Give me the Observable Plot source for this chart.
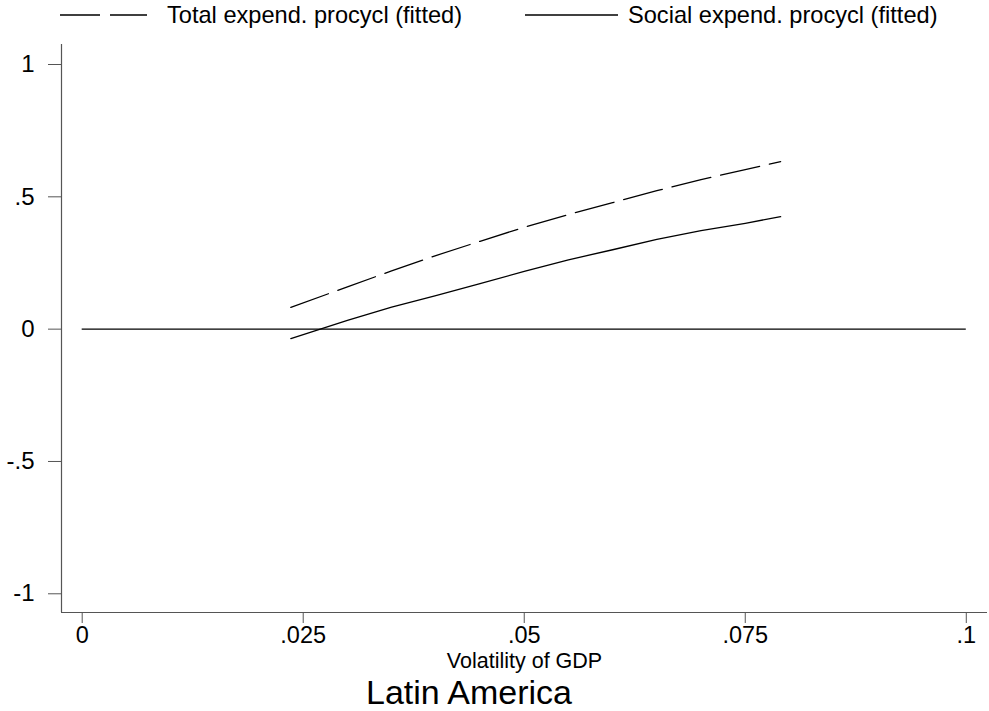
<!DOCTYPE html>
<html>
<head>
<meta charset="utf-8">
<script src="https://cdn.jsdelivr.net/npm/d3@7"></script>
<script src="https://cdn.jsdelivr.net/npm/@observablehq/plot@0.6"></script>
<style>
  body { margin: 0; background: #fff; font-family: "Liberation Sans", Arial, sans-serif; color: #000; }
  #legend { position: relative; height: 32px; width: 989px; }
  #legend svg { position: absolute; top: 0; }
  #legend span { position: absolute; top: -1px; font-size: 23.6px; line-height: 32px; white-space: nowrap; }
  #chart { height: 641px; }
  #title { font-size: 34px; line-height: 34px; padding-left: 366px; margin-top: 1.5px; white-space: nowrap; }
</style>
</head>
<body>
<div id="legend"></div>
<div id="chart"></div>
<div id="title"></div>
<script>
// Fitted procyclicality of expenditure against GDP volatility
const volatility   = [0.0236, 0.030, 0.035, 0.040, 0.045, 0.050, 0.055, 0.060, 0.065, 0.070, 0.075, 0.079];
const totalFitted  = [0.082, 0.160, 0.220, 0.278, 0.332, 0.385, 0.433, 0.478, 0.523, 0.565, 0.603, 0.633];
const socialFitted = [-0.036, 0.033, 0.083, 0.127, 0.172, 0.218, 0.262, 0.300, 0.339, 0.372, 0.400, 0.425];

const seriesNames = ["Total expend. procycl (fitted)", "Social expend. procycl (fitted)"];
const xTicks = [0, 0.025, 0.05, 0.075, 0.1];
const yTicks = [-1, -0.5, 0, 0.5, 1];
const zeroLineSpan = [0, 0.1];
const xLabel = "Volatility of GDP";
const titleText = "Latin America";

const xDomain = [-0.00234, 0.1024];
const yDomain = [-1.0707, 1.0756];
const dash = "40,10";

const rows = volatility.map((v, i) => ({v, total: totalFitted[i], social: socialFitted[i]}));
const fmt = d => d === 0 ? "0" : String(d).replace("0.", ".");

// Legend row
const legend = document.getElementById("legend");
legend.innerHTML = `
  <svg style="left:60px" width="87" height="32"><line x1="0" x2="87" y1="15" y2="15" stroke="#000" stroke-width="1.3" stroke-dasharray="${dash}"/></svg>
  <span style="left:167px">${seriesNames[0]}</span>
  <svg style="left:525px" width="93" height="32"><line x1="0" x2="93" y1="15" y2="15" stroke="#000" stroke-width="1.3"/></svg>
  <span style="left:628px">${seriesNames[1]}</span>`;

const chart = Plot.plot({
  width: 989,
  height: 641,
  marginTop: 12,
  marginBottom: 61,
  marginLeft: 61,
  marginRight: 2,
  style: {fontFamily: "Liberation Sans, Arial, sans-serif", fontSize: "23px", background: "#fff", color: "#000", overflow: "visible"},
  x: {domain: xDomain},
  y: {domain: yDomain},
  marks: [
    Plot.ruleX([xDomain[0]], {stroke: "#555", strokeWidth: 1.2}),
    Plot.ruleY([yDomain[0]], {stroke: "#555", strokeWidth: 1.2}),
    Plot.ruleY([0], {x1: zeroLineSpan[0], x2: zeroLineSpan[1], stroke: "#000", strokeWidth: 1.3}),
    Plot.line(rows, {x: "v", y: "total", stroke: "#000", strokeWidth: 1.3, strokeDasharray: dash}),
    Plot.line(rows, {x: "v", y: "social", stroke: "#000", strokeWidth: 1.3}),
    Plot.axisX(xTicks, {
      tickSize: 11, tickPadding: 3, tickFormat: fmt, stroke: "#555", fill: "#000",
      fontSize: 23.5, label: null
    }),
    Plot.axisX({
      ticks: [], tickSize: 0, fontSize: 21.5, fill: "#000",
      label: xLabel, labelAnchor: "center", labelOffset: 55.5, labelArrow: "none"
    }),
    Plot.axisY(yTicks, {
      tickSize: 13, tickPadding: 14, tickFormat: fmt, stroke: "#555", fill: "#000",
      fontSize: 24, label: null
    })
  ]
});
document.getElementById("chart").appendChild(chart);
document.getElementById("title").textContent = titleText;
</script>
</body>
</html>
